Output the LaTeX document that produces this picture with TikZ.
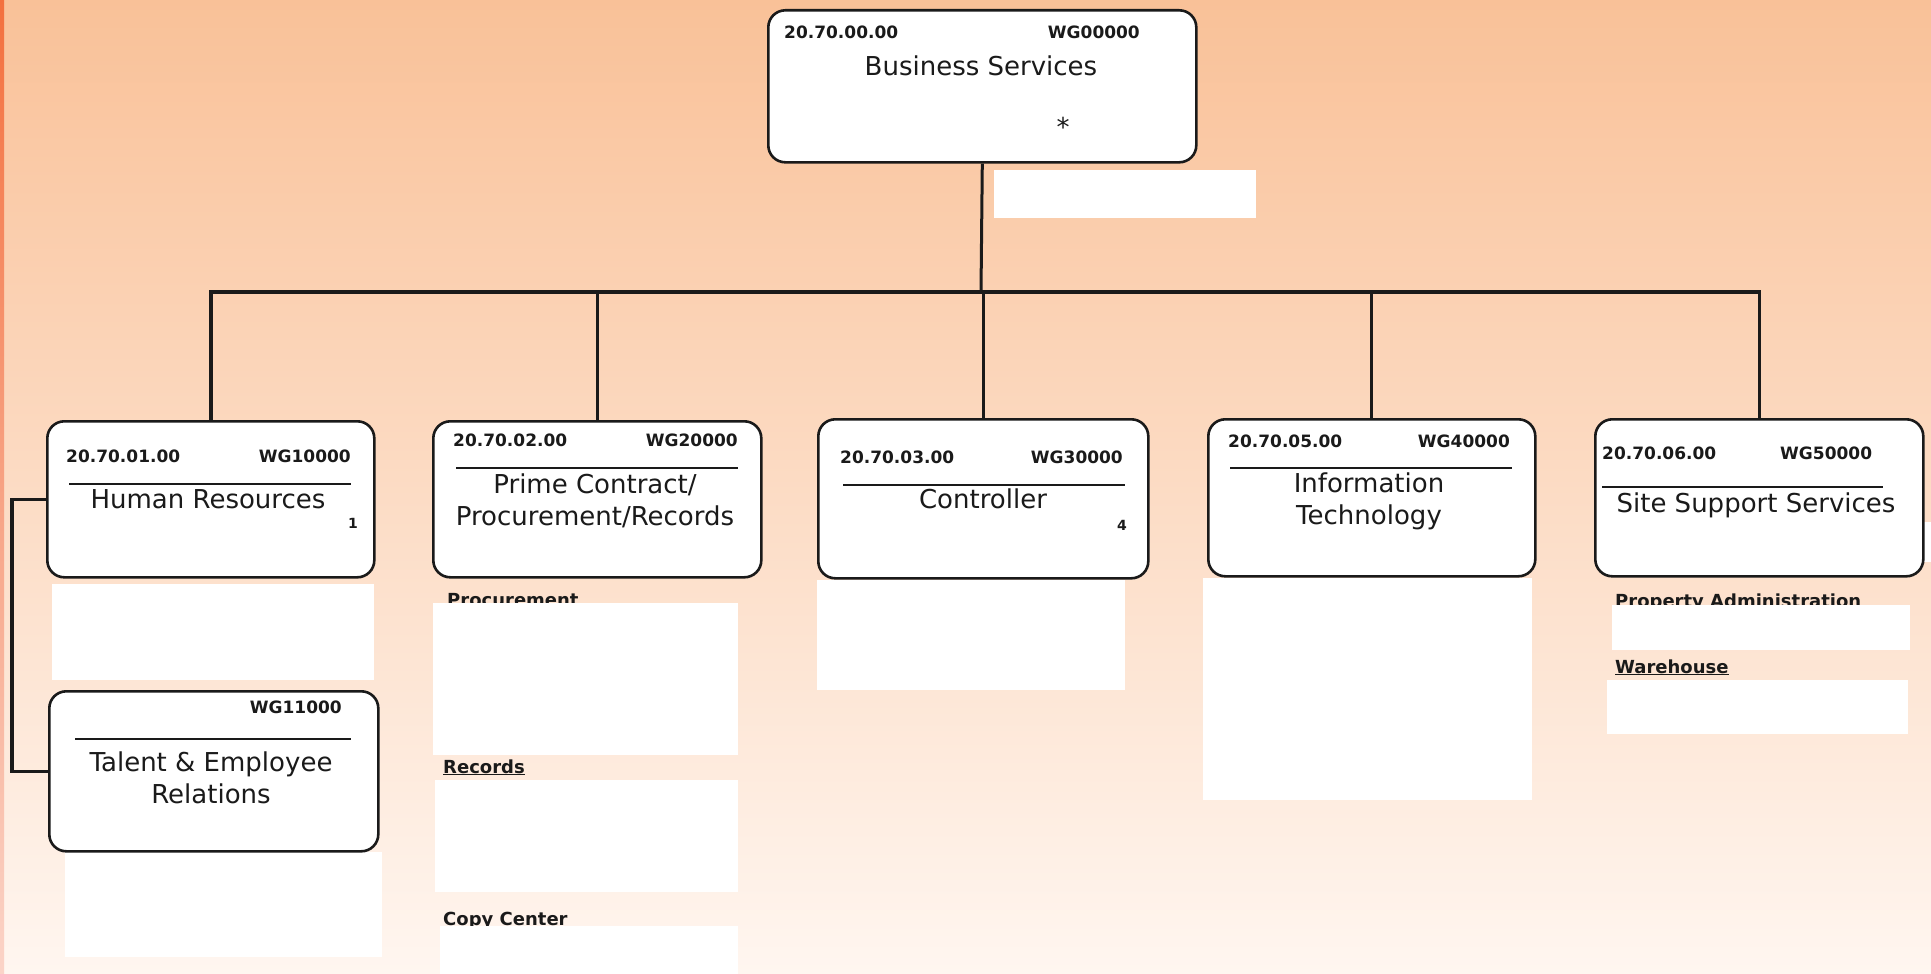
\documentclass[tikz,border=0pt]{standalone}
\usepackage{fontspec}
\setmainfont{DejaVu Sans}
\usetikzlibrary{positioning}
\definecolor{peachtop}{RGB}{249,193,152}
\definecolor{peachmid}{RGB}{252,216,192}
\definecolor{peachbot}{RGB}{255,246,240}
\definecolor{edgeorange}{RGB}{243,112,62}
\definecolor{edgepink}{RGB}{251,212,200}
\definecolor{ink}{RGB}{26,26,26}
\tikzstyle{unitbox}=[rectangle, draw=ink, line width=2.6pt, fill=white, rounded corners=17pt, anchor=north west, inner sep=0pt]
\tikzstyle{notebox}=[rectangle, fill=white, anchor=north west, inner sep=0pt]
\tikzstyle{codetext}=[font=\fontsize{17}{20}\selectfont\bfseries, text=ink, inner sep=0pt]
\tikzstyle{titletext}=[font=\fontsize{26}{32}\selectfont, text=ink, align=center, inner sep=0pt]
\tikzstyle{footmark}=[font=\fontsize{14}{16}\selectfont\bfseries, text=ink, inner sep=0pt]
\tikzstyle{subhead}=[font=\fontsize{18}{21}\selectfont\bfseries, text=ink, inner sep=0pt, anchor=base west]
\tikzstyle{tieline}=[draw=ink, line width=3pt]
\tikzstyle{sepline}=[draw=ink, line width=1.6pt]

\begin{document}
\begin{tikzpicture}[x=1pt,y=-1pt]
  \useasboundingbox (0,0) rectangle (1931,974);
  % background
  \fill[top color=peachtop, middle color=peachmid, bottom color=peachbot] (0,0) rectangle (1931,974);
  \fill[top color=edgeorange, bottom color=edgepink] (0,0) rectangle (4,974);

  % sub unit labels (partly hidden by the white panels)
  \node[subhead] (pc-proc) at (447,606) {Procurement};
  \node[subhead] (pc-rec) at (443,773) {\underline{Records}};
  \node[subhead] (pc-copy) at (443,925) {Copy Center};
  \node[subhead] (ss-prop) at (1615,607) {Property Administration};
  \node[subhead] (ss-ware) at (1615,673) {\underline{Warehouse}};

  % white panels
  \node[notebox, minimum width=262pt, minimum height=48pt] (bs-note) at (994,170) {};
  \node[notebox, minimum width=322pt, minimum height=96pt] (hr-note) at (52,584) {};
  \node[notebox, minimum width=317pt, minimum height=105pt] (te-note) at (65,852) {};
  \node[notebox, minimum width=305pt, minimum height=152pt] (pc-note1) at (433,603) {};
  \node[notebox, minimum width=303pt, minimum height=112pt] (pc-note2) at (435,780) {};
  \node[notebox, minimum width=298pt, minimum height=48pt] (pc-note3) at (440,926) {};
  \node[notebox, minimum width=308pt, minimum height=110pt] (ct-note) at (817,580) {};
  \node[notebox, minimum width=329pt, minimum height=222pt] (it-note) at (1203,578) {};
  \node[notebox, minimum width=298pt, minimum height=45pt] (ss-note1) at (1612,605) {};
  \node[notebox, minimum width=301pt, minimum height=54pt] (ss-note2) at (1607,680) {};
  \node[notebox, minimum width=9pt, minimum height=40pt] (ss-stub) at (1922,522) {};

  % units
  \node[unitbox, minimum width=428pt, minimum height=152pt] (bs) at (767,9) {};
  \node[unitbox, minimum width=327pt, minimum height=156pt] (hr) at (46,420) {};
  \node[unitbox, minimum width=329pt, minimum height=160pt] (te) at (48,690) {};
  \node[unitbox, minimum width=328pt, minimum height=156pt] (pc) at (432,420) {};
  \node[unitbox, minimum width=330pt, minimum height=159pt] (ct) at (817,418) {};
  \node[unitbox, minimum width=327pt, minimum height=157pt] (it) at (1207,418) {};
  \node[unitbox, minimum width=328pt, minimum height=157pt] (ss) at (1594,418) {};

  % Business Services
  \node[codetext, anchor=base west] (bs-code) at (784,39) {20.70.00.00};
  \node[codetext, anchor=base east] (bs-wg) at (1140,39) {WG00000};
  \node[titletext, anchor=base] (bs-name) at (981,75) {Business Services};
  \node[titletext] (bs-star) at (1063,127) {*};

  % Human Resources
  \node[codetext, anchor=base west] (hr-code) at (66,462) {20.70.01.00};
  \node[codetext, anchor=base east] (hr-wg) at (351,462) {WG10000};
  \draw[sepline] (69,484) -- (351,484);
  \node[titletext, anchor=base] (hr-name) at (208,508) {Human Resources};
  \node[footmark] (hr-mark) at (353,523) {1};

  % Talent & Employee Relations
  \node[codetext, anchor=base east] (te-wg) at (342,713) {WG11000};
  \draw[sepline] (75,739) -- (351,739);
  \node[titletext] (te-name) at (211,778) {Talent \& Employee\\Relations};

  % Prime Contract
  \node[codetext, anchor=base west] (pc-code) at (453,446) {20.70.02.00};
  \node[codetext, anchor=base east] (pc-wg) at (738,446) {WG20000};
  \draw[sepline] (456,468) -- (738,468);
  \node[titletext] (pc-name) at (595,501) {Prime Contract/\\Procurement/Records};

  % Controller
  \node[codetext, anchor=base west] (ct-code) at (840,463) {20.70.03.00};
  \node[codetext, anchor=base east] (ct-wg) at (1123,463) {WG30000};
  \draw[sepline] (843,485) -- (1125,485);
  \node[titletext, anchor=base] (ct-name) at (983,508) {Controller};
  \node[footmark] (ct-mark) at (1122,525) {4};

  % Information Technology
  \node[codetext, anchor=base west] (it-code) at (1228,447) {20.70.05.00};
  \node[codetext, anchor=base east] (it-wg) at (1510,447) {WG40000};
  \draw[sepline] (1230,468) -- (1512,468);
  \node[titletext] (it-name) at (1369,501) {Information\\Technology};

  % Site Support Services
  \node[codetext, anchor=base west] (ss-code) at (1602,459) {20.70.06.00};
  \node[codetext, anchor=base west] (ss-wg) at (1780,459) {WG50000};
  \draw[sepline] (1602,487) -- (1883,487);
  \node[titletext, anchor=base] (ss-name) at (1756,512) {Site Support Services};

  % connectors
  \coordinate (bus) at (981,292);
  \draw[tieline] (bs.south) -- (bus);
  \draw[tieline, line width=3.6pt] (hr.north) |- (bus) -| (ss.north);
  \foreach \u in {pc,ct,it}
    \draw[tieline] (\u.north) -- (\u.north |- bus);
  \draw[tieline, line width=3.6pt] (hr.west) -- ++(-34,0) |- (te.west);
\end{tikzpicture}
\end{document}
